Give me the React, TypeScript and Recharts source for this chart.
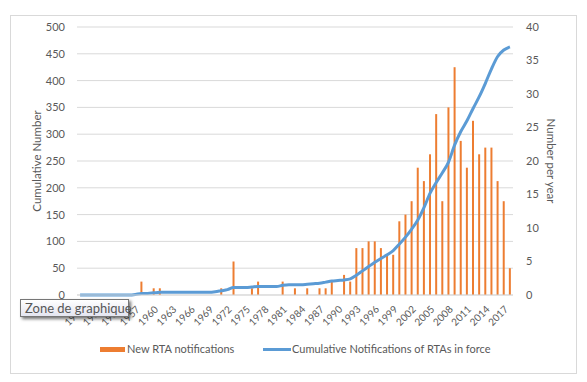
import { Bar, CartesianGrid, ComposedChart, Legend, Line, XAxis, YAxis } from 'recharts';

const years = [
  '1948', '1949', '1950', '1951', '1952', '1953', '1954', '1955', '1956', '1957',
  '1958', '1959', '1960', '1961', '1962', '1963', '1964', '1965', '1966', '1967',
  '1968', '1969', '1970', '1971', '1972', '1973', '1974', '1975', '1976', '1977',
  '1978', '1979', '1980', '1981', '1982', '1983', '1984', '1985', '1986', '1987',
  '1988', '1989', '1990', '1991', '1992', '1993', '1994', '1995', '1996', '1997',
  '1998', '1999', '2000', '2001', '2002', '2003', '2004', '2005', '2006', '2007',
  '2008', '2009', '2010', '2011', '2012', '2013', '2014', '2015', '2016', '2017',
  '2018',
];

// per year, right axis
const newNotifications = [
  0, 0, 0, 0, 0, 0, 0, 0, 0, 0,
  2, 0, 1, 1, 0, 0, 0, 0, 0, 0,
  0, 0, 0, 1, 0, 5, 0, 0, 1, 2,
  0, 0, 0, 2, 0, 1, 0, 1, 0, 1,
  1, 2, 0, 3, 2, 7, 7, 8, 8, 7,
  6, 6, 11, 12, 14, 19, 17, 21, 27, 14,
  28, 34, 23, 19, 26, 21, 22, 22, 17, 14,
  4,
];

// cumulative, left axis
const cumulativeInForce = [
  0, 0, 0, 0, 0, 0, 0, 0, 0, 1,
  3, 3, 4, 5, 5, 5, 5, 5, 5, 5,
  5, 5, 6, 8, 10, 14, 14, 14, 15, 16,
  16, 16, 16, 18, 19, 19, 19, 20, 21, 22,
  24, 26, 27, 28, 30, 37, 45, 53, 61, 68,
  75, 83, 95, 108, 123, 140, 163, 190, 210, 228,
  248, 280, 305, 325, 348, 370, 395, 422, 445, 457,
  463,
];

const leftTicks = [0, 50, 100, 150, 200, 250, 300, 350, 400, 450, 500];
const rightTicks = [0, 5, 10, 15, 20, 25, 30, 35, 40];

const data = years.map((year, i) => ({
  year,
  perYear: newNotifications[i],
  cumulative: cumulativeInForce[i],
}));

const FONT = 'Lato, "Liberation Sans", sans-serif';
const TEXT = '#595959';
const GRID = '#d9d9d9';

const renderLegend = () => (
  <div style={{ position: 'relative', height: 20, fontFamily: FONT, fontSize: 11, color: TEXT }}>
    <div style={{ position: 'absolute', left: 100, top: 7, width: 25, height: 5, background: '#ed7d31' }} />
    <span style={{ position: 'absolute', left: 127, top: 2 }}>New RTA notifications</span>
    <div style={{ position: 'absolute', left: 263, top: 8, width: 28, height: 3, background: '#5b9bd5' }} />
    <span style={{ position: 'absolute', left: 292, top: 2 }}>Cumulative Notifications of RTAs in force</span>
  </div>
);

export default function App() {
  return (
    <div style={{ position: 'absolute', left: 0, top: 0, width: 587, height: 382, background: '#fff', fontFamily: FONT }}>
      <div style={{ position: 'absolute', left: 10, top: 15, width: 565, height: 357, border: `1px solid ${GRID}` }} />
      <ComposedChart width={587} height={382} data={data} margin={{ top: 27, right: 0, bottom: 27, left: 0 }}>
        <CartesianGrid yAxisId="left" vertical={false} stroke={GRID} />
        <XAxis
          dataKey="year"
          interval={2}
          height={40}
          tickLine={false}
          axisLine={{ stroke: GRID }}
          angle={-45}
          textAnchor="end"
          tickMargin={4}
          tick={{ fill: TEXT, fontSize: 10, fontFamily: FONT }}
        />
        <YAxis
          yAxisId="left"
          width={77}
          domain={[0, 500]}
          ticks={leftTicks}
          tickLine={false}
          axisLine={false}
          tickMargin={6}
          tick={{ fill: TEXT, fontSize: 11, fontFamily: FONT }}
        />
        <YAxis
          yAxisId="right"
          orientation="right"
          width={74}
          domain={[0, 40]}
          ticks={rightTicks}
          tickLine={false}
          axisLine={false}
          tickMargin={7}
          tick={{ fill: TEXT, fontSize: 11, fontFamily: FONT, textAnchor: 'start' }}
        />
        <Bar yAxisId="right" dataKey="perYear" name="New RTA notifications" fill="#ed7d31" barSize={2} isAnimationActive={false} />
        <Line
          yAxisId="left"
          type="monotone"
          dataKey="cumulative"
          name="Cumulative Notifications of RTAs in force"
          stroke="#5b9bd5"
          strokeWidth={3}
          dot={false}
          isAnimationActive={false}
        />
        <Legend content={renderLegend} wrapperStyle={{ position: 'absolute', left: 0, top: 340, width: 587 }} />
      </ComposedChart>
      <div
        style={{
          position: 'absolute', left: 36, top: 161, transform: 'translate(-50%, -50%) rotate(-90deg)',
          whiteSpace: 'nowrap', fontSize: 11.5, color: TEXT,
        }}
      >
        Cumulative Number
      </div>
      <div
        style={{
          position: 'absolute', left: 551, top: 161, transform: 'translate(-50%, -50%) rotate(90deg)',
          whiteSpace: 'nowrap', fontSize: 11.5, color: TEXT,
        }}
      >
        Number per year
      </div>
      <div
        style={{
          position: 'absolute', left: 20, top: 299, width: 109, height: 18, boxSizing: 'border-box',
          border: '1px solid #767676', background: 'linear-gradient(#ffffff, #e4e5f0)',
          boxShadow: '2px 2px 3px rgba(0,0,0,0.55)', fontSize: 13, color: '#575757',
          lineHeight: '16px', paddingLeft: 4, whiteSpace: 'nowrap',
        }}
      >
        Zone de graphique
      </div>
    </div>
  );
}
